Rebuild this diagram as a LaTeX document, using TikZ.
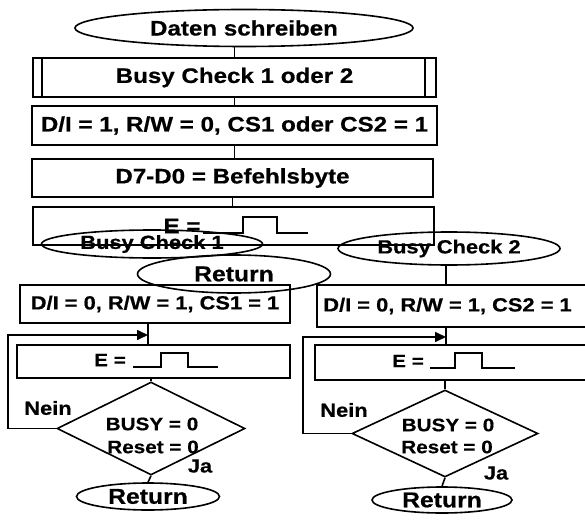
\documentclass[tikz,border=0pt]{standalone}
\usepackage{fontspec}
\setmainfont[FakeStretch=1.15, BoldFeatures={FakeBold=0.6}]{Liberation Sans}
\usetikzlibrary{shapes.geometric,arrows.meta}
\newcommand\fsA{\bfseries\fontsize{21}{24}\selectfont}
\newcommand\fsB{\bfseries\fontsize{19}{22}\selectfont}
\newcommand\fsC{\bfseries\fontsize{18}{21}\selectfont}
\newcommand\fsD{\bfseries\fontsize{21.5}{24}\selectfont}
\begin{document}
\begin{tikzpicture}[x=1pt,y=-1pt,
  box/.style={draw, rectangle, inner sep=0pt, line width=1.6pt},
  ell/.style={draw, ellipse, inner sep=0pt, line width=1.6pt},
  dia/.style={draw, diamond, inner sep=0pt, line width=1.6pt},
  conn/.style={line width=1.6pt},
  arr/.style={line width=1.6pt, -{Triangle[length=11pt,width=10pt]}},
  txt/.style={inner sep=0pt},
  wave/.style={line width=1.6pt, line join=miter}]
\path[use as bounding box] (0,0) rectangle (585,521);
\clip (0,0) rectangle (585,521);

% upper part
\node[ell, minimum width=338pt, minimum height=37pt, font=\fsA] (start) at (244,28) {Daten schreiben};
\node[box, minimum width=403pt, minimum height=39pt, font=\fsA] (busy) at (234.5,77.5) {Busy Check 1 oder 2};
\draw[conn] ([xshift=10pt]busy.north west) -- ([xshift=10pt]busy.south west);
\draw[conn] ([xshift=-12pt]busy.north east) -- ([xshift=-12pt]busy.south east);
\node[box, minimum width=405pt, minimum height=39pt, font=\fsA] (di1) at (234.5,125.5) {D/I = 1, R/W = 0, CS1 oder CS2 = 1};
\node[box, minimum width=401pt, minimum height=38pt, font=\fsA] (d7) at (232.5,178) {D7-D0 = Befehlsbyte};
\node[box, minimum width=401pt, minimum height=38pt] (e1) at (233.5,226) {};
\node[txt, font=\fsA] (e1t) at (182,226) {E =};
\draw[wave] (203,233) -- (243,233) -- (243,217) -- (277,217) -- (277,233) -- (308,233);

\draw[conn] (busy.north) -- (busy.north |- start.south);
\draw[conn] (busy.south) -- (di1.north);
\draw[conn] (di1.south) -- (di1.south |- d7.north);
\draw[conn] (d7.south) -- (d7.south |- e1.north);

% overlapping ellipses
\node[ell, minimum width=221pt, minimum height=28pt, font=\fsB] (bc1) at (152,244) {Busy Check 1};
\node[ell, minimum width=193pt, minimum height=38pt, font=\fsD] (ret1) at (234,274) {Return};
\node[ell, minimum width=222pt, minimum height=33pt, font=\fsB] (bc2) at (449,248.5) {Busy Check 2};

% left column
\node[box, minimum width=270pt, minimum height=38pt, font=\fsB] (di0a) at (155,304) {D/I = 0, R/W = 1, CS1 = 1};
\coordinate (ja) at (148,335);
\coordinate (la) at (8,335);
\node[box, minimum width=273pt, minimum height=33pt] (ea) at (153.5,361.5) {};
\node[txt, font=\fsC] (eat) at (110,360) {E =};
\draw[wave] (133,367) -- (161,367) -- (161,353) -- (188,353) -- (188,367) -- (218,367);
\node[dia, minimum width=188pt, minimum height=93pt] (da) at (151,428.5) {};
\node[txt, font=\fsC] (da1) at (152,424) {BUSY = 0};
\node[txt, font=\fsC] (da2) at (153,447) {Reset = 0};
\node[txt, font=\fsB] (na) at (48,408) {Nein};
\node[txt, font=\fsB] (ya) at (200,466) {Ja};
\node[ell, minimum width=143pt, minimum height=27pt, font=\fsD] (ra) at (148,496.5) {Return};

\draw[conn] (di0a.south -| ja) -- (ea.north -| ja);
\draw[arr] (da.west) -| (la) -- (ja);
\draw[conn] (da.north) -- (da.north |- ea.south);
\draw[conn] (da.south) -- (ra.north);

% right column
\node[box, minimum width=283pt, minimum height=42pt,
      label={[txt, font=\fsB, xshift=-11pt]center:{D/I = 0, R/W = 1, CS2 = 1}}] (di0b) at (458.5,306) {};
\coordinate (jb) at (446,337);
\coordinate (lb) at (303,337);
\node[box, minimum width=285pt, minimum height=35pt] (eb) at (457.5,362.5) {};
\node[txt, font=\fsC] (ebt) at (408,361) {E =};
\draw[wave] (430,368) -- (455,368) -- (455,353) -- (482,353) -- (482,368) -- (515,368);
\node[dia, minimum width=186pt, minimum height=87pt] (db) at (445,433.5) {};
\node[txt, font=\fsC] (db1) at (448,425) {BUSY = 0};
\node[txt, font=\fsC] (db2) at (447,447) {Reset = 0};
\node[txt, font=\fsB] (nb) at (344,410) {Nein};
\node[txt, font=\fsB] (yb) at (496,473) {Ja};
\node[ell, minimum width=140pt, minimum height=26pt, font=\fsD] (rb) at (442,500) {Return};

\draw[conn] (bc2.south -| jb) -- (di0b.north -| jb);
\draw[conn] (di0b.south -| jb) -- (eb.north -| jb);
\draw[arr] (db.west) -| (lb) -- (jb);
\draw[conn] (db.north) -- (db.north |- eb.south);
\draw[conn] (db.south) -- (rb.north);
\end{tikzpicture}
\end{document}
